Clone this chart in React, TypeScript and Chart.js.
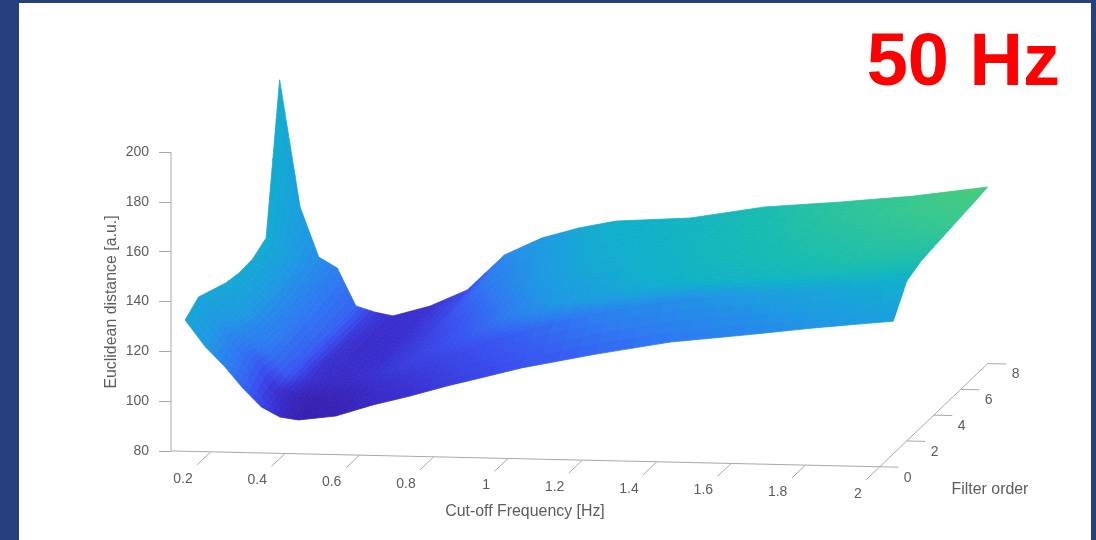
import React, { useEffect, useRef } from "react";
import { Chart, registerables } from "chart.js";

Chart.register(...registerables);

const frequencies = [0.095, 0.15, 0.2, 0.25, 0.3, 0.35, 0.4, 0.5, 0.6, 0.7, 0.8, 0.9, 1, 1.2, 1.4, 1.6, 1.8, 2];
const filterOrders = [1, 2, 3, 4, 5, 6, 7, 8];

const distanceOrder1 = [127.4, 116.7, 109.3, 100.6, 93.2, 89.3, 88.3, 90.2, 95, 98.9, 103.3, 107.2, 111.2, 117.4, 122.9, 126.4, 130.1, 133.3];
const distanceOrder2 = [131.5, 121.2, 112.5, 106.7, 94.8, 92.6, 91.9, 94.3, 98.6, 105.4, 111.7, 117.7, 122.4, 129.9, 135.4, 137.7, 140.3, 144.2];
const distanceOrder3 = [129.1, 119, 111, 105, 96, 93.5, 92.5, 95, 100, 108, 115, 121, 125.5, 132, 137, 139.5, 142.5, 146.7];
const distanceOrder4 = [126.7, 118, 110.5, 105.5, 96.5, 94, 93, 95.5, 101, 110.5, 117.5, 123, 127.5, 133, 138, 140.5, 143.5, 147.6];
const distanceOrder5 = [125.6, 118, 111, 106.5, 97, 94.2, 93, 96, 102, 113, 120, 125, 129, 134, 138.5, 141, 144.5, 148.4];
const distanceOrder6 = [126, 119, 112, 108, 97, 94.5, 93.3, 96.5, 103, 115.5, 122, 127, 130.5, 134.5, 139.5, 142, 145, 149.2];
const distanceOrder7 = [129.3, 123, 114, 110, 97.2, 94.8, 93.5, 97.2, 104, 117.5, 124.5, 129, 132.5, 135.2, 140.2, 142.8, 146, 150];
const distanceOrder8 = [187.6, 136.7, 116.8, 112.5, 97.5, 95.2, 93.8, 98.1, 104.9, 119.3, 126.4, 130.8, 133.9, 135.8, 140.9, 143.5, 146.6, 150.9];

const shadeOrder1 = [4.6, 4, 3.3, 2.5, 1.6, 0.7, 0.2, 0.3, 0.7, 1, 1.4, 1.7, 2, 2.5, 3, 3.4, 3.9, 4.3];
const shadeOrder2 = [4.5, 3.9, 3, 2.4, 1, 0.5, 0.3, 0.5, 1, 1.4, 1.8, 2.2, 2.6, 3.4, 3.8, 4.2, 4.6, 5];
const shadeOrder3 = [4.6, 4.1, 3.3, 2.9, 2.2, 1, 0.7, 0.9, 1.4, 1.8, 2.4, 3.2, 3.9, 4.6, 5.2, 5.5, 5.9, 6.1];
const shadeOrder4 = [4.7, 4.2, 3.4, 3, 2.3, 1, 0.8, 0.9, 1.4, 1.9, 2.7, 3.6, 4.2, 4.9, 5.5, 5.9, 6.3, 6.5];
const shadeOrder5 = [4.7, 4.2, 3.5, 3, 2.4, 1.1, 0.8, 0.9, 1.5, 2.3, 3.2, 4, 4.5, 5.1, 5.6, 6.1, 6.5, 6.8];
const shadeOrder6 = [4.7, 4.2, 3.5, 3.1, 2.5, 1.2, 0.8, 0.9, 1.6, 2.8, 3.6, 4.2, 4.7, 5.2, 5.8, 6.3, 6.7, 7.1];
const shadeOrder7 = [4.8, 4.3, 3.6, 3.1, 2.5, 1.3, 0.9, 1, 1.8, 3.2, 3.9, 4.4, 4.9, 5.3, 5.9, 6.5, 6.9, 7.4];
const shadeOrder8 = [4.9, 4.3, 3.7, 3.2, 2.5, 1.3, 0.9, 1, 1.9, 3.6, 4.1, 4.6, 5, 5.4, 6, 6.6, 7, 7.7];

const distanceRows = [distanceOrder1, distanceOrder2, distanceOrder3, distanceOrder4, distanceOrder5, distanceOrder6, distanceOrder7, distanceOrder8];
const shadeRows = [shadeOrder1, shadeOrder2, shadeOrder3, shadeOrder4, shadeOrder5, shadeOrder6, shadeOrder7, shadeOrder8];

const colourStops = ["#361ca8", "#3a30d0", "#3a50f0", "#2f78f2", "#1f98e4", "#10b0cc", "#18bcb0", "#38c890", "#50cc70"];

const frequencyTicks = [0.2, 0.4, 0.6, 0.8, 1, 1.2, 1.4, 1.6, 1.8, 2];
const orderTicks = [0, 2, 4, 6, 8];
const distanceTicks = [80, 100, 120, 140, 160, 180, 200];

const FREQ_MIN = 0.0933;
const FREQ_MAX_SCALE = 2.5818;
const DIST_SCALE_MIN = 44.26;
const DIST_SCALE_MAX = 261.13;
const AXIS_GREY = "#a8a8a8";
const TEXT_GREY = "#5c5c5c";
const FONT = '"Liberation Sans", Arial, sans-serif';

// oblique view of the MATLAB axes, expressed in the units of the two chart scales
const project = (f: number, o: number, z: number) => ({
  x: f + o * 0.03632,
  y: z - (f - 0.1) * 3.333 + o * 5.181,
});

const hexRgb = (h: string) => [1, 3, 5].map((i) => parseInt(h.slice(i, i + 2), 16));
const shadeColour = (c: number) => {
  const v = Math.max(0, Math.min(colourStops.length - 1.001, c));
  const i = Math.floor(v);
  const t = v - i;
  const a = hexRgb(colourStops[i]);
  const b = hexRgb(colourStops[i + 1]);
  const m = a.map((p, k) => Math.round(p + (b[k] - p) * t));
  return `rgb(${m[0]},${m[1]},${m[2]})`;
};

const bilinear = (rows: number[][], r: number, i: number, u: number, v: number) =>
  rows[r][i] * (1 - u) * (1 - v) + rows[r][i + 1] * u * (1 - v) + rows[r + 1][i] * (1 - u) * v + rows[r + 1][i + 1] * u * v;

const SHADING_STEPS = 4;

function surfaceDatasets() {
  const out: any[] = [];
  for (let r = 0; r < filterOrders.length - 1; r++) {
    for (let i = 0; i < frequencies.length - 1; i++) {
      for (let a = 0; a < SHADING_STEPS; a++) {
        for (let b = 0; b < SHADING_STEPS; b++) {
          const corner = (p: number, q: number) => {
            const u = p / SHADING_STEPS;
            const v = q / SHADING_STEPS;
            const f = frequencies[i] + (frequencies[i + 1] - frequencies[i]) * u;
            const o = filterOrders[r] + (filterOrders[r + 1] - filterOrders[r]) * v;
            return project(f, o, bilinear(distanceRows, r, i, u, v));
          };
          const colour = shadeColour(bilinear(shadeRows, r, i, (a + 0.5) / SHADING_STEPS, (b + 0.5) / SHADING_STEPS));
          const first = corner(a, b);
          out.push({
            type: "scatter",
            showLine: true,
            fill: "shape",
            data: [first, corner(a + 1, b), corner(a + 1, b + 1), corner(a, b + 1), first],
            backgroundColor: colour,
            borderColor: colour,
            borderWidth: 0.8,
            pointRadius: 0,
            tension: 0,
            clip: false,
          });
        }
      }
    }
  }
  return out;
}

const lineSet = (data: { x: number; y: number }[]) => ({
  type: "scatter",
  showLine: true,
  fill: false,
  data,
  borderColor: AXIS_GREY,
  borderWidth: 1,
  pointRadius: 0,
  clip: false,
});

function axisDatasets() {
  const floor = distanceTicks[0];
  const top = distanceTicks[distanceTicks.length - 1];
  const lastF = frequencyTicks[frequencyTicks.length - 1];
  const lastO = orderTicks[orderTicks.length - 1];
  const sets: any[] = [
    lineSet([project(FREQ_MIN, 0, floor), project(FREQ_MIN, 0, top)]),
    lineSet([project(FREQ_MIN, 0, floor), project(lastF, 0, floor)]),
    lineSet([project(lastF, 0, floor), project(lastF, lastO, floor)]),
  ];
  frequencyTicks.forEach((f) => sets.push(lineSet([project(f, 0, floor), project(f, -1, floor)])));
  orderTicks.forEach((o) => sets.push(lineSet([project(lastF, o, floor), project(lastF + 0.05, o, floor)])));
  return sets;
}

const labelsPlugin = {
  id: "axisLabels",
  afterDraw(chart: any) {
    const { ctx, scales } = chart;
    const at = (f: number, o: number, z: number) => {
      const p = project(f, o, z);
      return [scales.x.getPixelForValue(p.x), scales.y.getPixelForValue(p.y)];
    };
    ctx.save();
    ctx.fillStyle = TEXT_GREY;
    ctx.font = `14px ${FONT}`;
    ctx.textBaseline = "middle";
    ctx.textAlign = "right";
    frequencyTicks.forEach((f) => {
      const [x, y] = at(f, 0, 80);
      ctx.fillText(String(f), x - 18, y + 27);
    });
    ctx.textAlign = "center";
    orderTicks.forEach((o) => {
      const [x, y] = at(2, o, 80);
      ctx.fillText(String(o), x + 28, y + 11);
    });
    ctx.font = `15.9px ${FONT}`;
    ctx.fillText("Cut-off Frequency [Hz]", 525, 512);
    ctx.fillText("Filter order", 990, 490);
    ctx.save();
    ctx.translate(112, 302);
    ctx.rotate(-Math.PI / 2);
    ctx.fillText("Euclidean distance [a.u.]", 0, 0);
    ctx.restore();
    ctx.fillStyle = "#ff0000";
    ctx.font = `bold 74px ${FONT}`;
    ctx.textAlign = "right";
    ctx.textBaseline = "alphabetic";
    ctx.fillText("50 Hz", 1060, 85);
    ctx.restore();
  },
};

export default function App() {
  const ref = useRef<HTMLCanvasElement | null>(null);
  useEffect(() => {
    const chart = new Chart(ref.current as HTMLCanvasElement, {
      type: "scatter",
      data: { datasets: [...surfaceDatasets(), ...axisDatasets()] },
      options: {
        animation: false,
        responsive: false,
        events: [],
        layout: { padding: 0 },
        plugins: { legend: { display: false }, tooltip: { enabled: false }, title: { display: false } },
        scales: {
          x: { type: "linear", display: false, min: FREQ_MIN, max: FREQ_MAX_SCALE },
          y: {
            type: "linear",
            position: "left",
            min: DIST_SCALE_MIN,
            max: DIST_SCALE_MAX,
            afterBuildTicks: (s: any) => {
              s.ticks = distanceTicks.map((value) => ({ value }));
            },
            afterFit: (s: any) => {
              s.width = 171;
              s.paddingTop = 0;
              s.paddingBottom = 0;
            },
            border: { display: false },
            grid: { drawOnChartArea: false, drawTicks: true, tickLength: 12, tickColor: AXIS_GREY, color: AXIS_GREY, lineWidth: 1 },
            ticks: { color: TEXT_GREY, padding: 10, autoSkip: false, maxRotation: 0, font: { family: FONT, size: 14 } },
          },
        },
      },
      plugins: [labelsPlugin],
    } as any);
    return () => chart.destroy();
  }, []);
  return (
    <div style={{ position: "fixed", left: 0, top: 0, width: 1096, height: 540, background: "#26407f", overflow: "hidden" }}>
      <div style={{ position: "absolute", left: 19, top: 3, width: 1072, height: 537, background: "#ffffff" }} />
      <canvas ref={ref} width={1096} height={540} style={{ position: "absolute", left: 0, top: 0, display: "block", filter: "blur(0.5px)" }} />
    </div>
  );
}
